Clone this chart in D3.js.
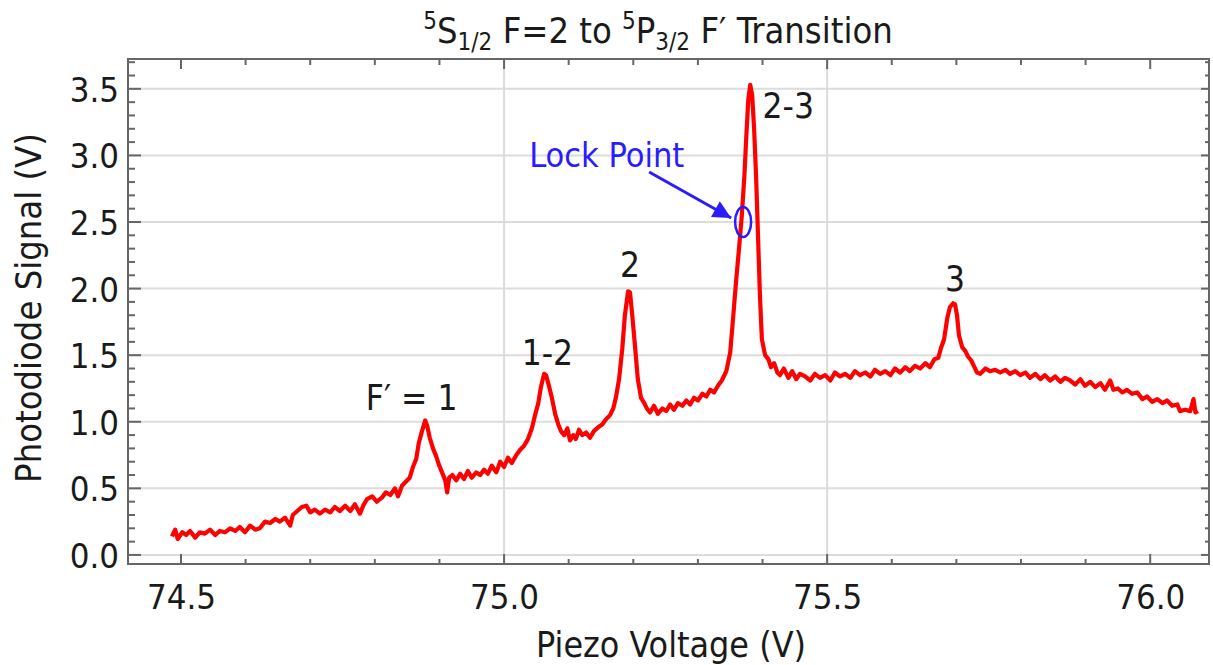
<!DOCTYPE html>
<html><head><meta charset="utf-8">
<script src="https://cdn.jsdelivr.net/npm/d3@7"></script>
<style>
body{margin:0;background:#fff;}
text{font-family:'DejaVu Sans Condensed','DejaVu Sans',sans-serif;font-stretch:condensed;}
</style></head>
<body><svg id="c" width="1213" height="665"></svg>
<script>
// ---- data ----
const voltage = [74.486,74.491,74.495,74.502,74.508,74.514,74.522,74.529,74.537,74.545,74.553,74.560,74.568,74.576,74.584,74.591,74.599,74.607,74.615,74.622,74.630,74.638,74.646,74.653,74.661,74.669,74.673,74.680,74.687,74.694,74.700,74.707,74.715,74.723,74.731,74.738,74.746,74.754,74.762,74.769,74.777,74.782,74.788,74.796,74.803,74.811,74.817,74.824,74.831,74.836,74.842,74.848,74.854,74.859,74.864,74.868,74.873,74.878,74.881,74.885,74.890,74.895,74.899,74.904,74.909,74.912,74.915,74.920,74.926,74.932,74.938,74.944,74.950,74.957,74.963,74.969,74.975,74.981,74.988,74.994,75.000,75.006,75.012,75.019,75.025,75.031,75.037,75.043,75.048,75.053,75.057,75.062,75.065,75.070,75.074,75.079,75.084,75.088,75.093,75.098,75.102,75.107,75.111,75.116,75.121,75.127,75.133,75.139,75.146,75.152,75.158,75.164,75.169,75.173,75.178,75.183,75.187,75.192,75.195,75.198,75.203,75.207,75.212,75.217,75.221,75.226,75.232,75.238,75.245,75.251,75.257,75.263,75.269,75.276,75.282,75.288,75.294,75.300,75.307,75.313,75.319,75.325,75.331,75.337,75.344,75.350,75.354,75.359,75.364,75.368,75.372,75.375,75.378,75.381,75.384,75.387,75.390,75.393,75.396,75.399,75.404,75.409,75.413,75.418,75.423,75.427,75.433,75.440,75.446,75.452,75.458,75.466,75.474,75.481,75.489,75.497,75.505,75.512,75.520,75.528,75.536,75.543,75.551,75.559,75.567,75.574,75.582,75.590,75.598,75.605,75.613,75.621,75.628,75.636,75.644,75.652,75.659,75.666,75.672,75.676,75.681,75.686,75.690,75.695,75.698,75.701,75.704,75.709,75.714,75.718,75.723,75.728,75.732,75.737,75.745,75.752,75.760,75.768,75.776,75.783,75.791,75.799,75.807,75.814,75.822,75.830,75.837,75.845,75.853,75.861,75.868,75.876,75.884,75.892,75.899,75.907,75.915,75.923,75.930,75.938,75.943,75.950,75.957,75.964,75.972,75.980,75.988,75.995,76.003,76.011,76.019,76.026,76.034,76.042,76.046,76.054,76.062,76.067,76.070,76.074];
const signal = [0.14,0.19,0.12,0.17,0.15,0.18,0.13,0.17,0.16,0.19,0.15,0.18,0.17,0.20,0.18,0.21,0.17,0.22,0.19,0.20,0.25,0.24,0.27,0.25,0.28,0.22,0.30,0.33,0.36,0.37,0.32,0.34,0.31,0.34,0.32,0.36,0.33,0.37,0.33,0.38,0.31,0.37,0.42,0.44,0.40,0.43,0.47,0.45,0.50,0.44,0.52,0.55,0.58,0.66,0.72,0.84,0.93,1.01,0.97,0.88,0.80,0.74,0.68,0.62,0.56,0.47,0.58,0.60,0.56,0.61,0.57,0.63,0.58,0.62,0.60,0.64,0.61,0.67,0.62,0.70,0.66,0.73,0.69,0.75,0.79,0.82,0.87,0.95,1.05,1.14,1.26,1.36,1.35,1.26,1.18,1.06,0.98,0.93,0.90,0.95,0.86,0.90,0.87,0.94,0.90,0.92,0.88,0.93,0.96,0.98,1.02,1.05,1.10,1.18,1.32,1.55,1.80,1.98,1.97,1.82,1.55,1.32,1.18,1.14,1.10,1.07,1.12,1.06,1.10,1.08,1.13,1.09,1.14,1.12,1.16,1.13,1.18,1.16,1.21,1.19,1.24,1.22,1.27,1.31,1.38,1.52,1.75,2.05,2.32,2.55,2.85,3.15,3.42,3.53,3.45,3.20,2.85,2.40,1.95,1.62,1.50,1.47,1.41,1.44,1.37,1.35,1.40,1.33,1.38,1.32,1.36,1.34,1.31,1.36,1.33,1.35,1.31,1.37,1.34,1.36,1.33,1.38,1.35,1.37,1.34,1.39,1.36,1.38,1.35,1.40,1.37,1.41,1.38,1.42,1.40,1.44,1.41,1.47,1.48,1.55,1.62,1.78,1.86,1.89,1.88,1.80,1.65,1.56,1.53,1.49,1.46,1.41,1.37,1.36,1.40,1.38,1.39,1.37,1.39,1.36,1.38,1.35,1.37,1.33,1.36,1.32,1.35,1.31,1.34,1.30,1.33,1.31,1.28,1.32,1.27,1.30,1.26,1.29,1.24,1.31,1.24,1.25,1.22,1.24,1.21,1.22,1.17,1.19,1.15,1.17,1.14,1.16,1.12,1.13,1.08,1.09,1.08,1.17,1.07,1.08];
const xTicks = [74.5, 75.0, 75.5, 76.0];
const xTickLabels = ["74.5","75.0","75.5","76.0"];
const yTicks = [0.0,0.5,1.0,1.5,2.0,2.5,3.0,3.5];
const yTickLabels = ["0.0","0.5","1.0","1.5","2.0","2.5","3.0","3.5"];
const xGrid = [75.0, 75.5];
const peakLabels = ["F\u2032 = 1","1-2","2","2-3","3"];
const peakLabelX = [74.857, 75.067, 75.195, 75.400, 75.698];
const peakLabelY = [1.09, 1.43, 2.09, 3.28, 1.98];
const peakAnchor = ["middle","middle","middle","start","middle"];
const lockPoint = {v: 75.370, s: 2.50};
const lockLabel = "Lock Point";

// ---- layout ----
const svg = d3.select("#c");
const L = 128, R = 1209, T = 59, B = 564;
const x = d3.scaleLinear().domain([74.418, 76.091]).range([L, R]);
const y = d3.scaleLinear().domain([-0.068, 3.724]).range([B, T]);
const frameCol = "#666", textCol = "#1a1a1a";

// grid
svg.append("g").selectAll("line").data(yTicks).join("line")
  .attr("x1", L).attr("x2", R).attr("y1", d => y(d)).attr("y2", d => y(d))
  .attr("stroke", "#dcdcdc").attr("stroke-width", 2);
svg.append("g").selectAll("line").data(xGrid).join("line")
  .attr("y1", T).attr("y2", B).attr("x1", d => x(d)).attr("x2", d => x(d))
  .attr("stroke", "#dcdcdc").attr("stroke-width", 2);

// minor ticks
const xMinor = d3.range(74.5, 76.09, 0.1).map(d => +d.toFixed(2)).filter(d => !xTicks.some(t => Math.abs(t - d) < 1e-6));
const yMinor = d3.range(0, 3.72, 0.1).map(d => +d.toFixed(2)).filter(d => !yTicks.some(t => Math.abs(t - d) < 1e-6));

function tickLines(g, vals, orient, len) {
  g.selectAll(null).data(vals).join("line")
    .attr("stroke", frameCol).attr("stroke-width", 2)
    .each(function (d) {
      const s = d3.select(this);
      if (orient === "bottom") s.attr("x1", x(d)).attr("x2", x(d)).attr("y1", B).attr("y2", B - len);
      if (orient === "top") s.attr("x1", x(d)).attr("x2", x(d)).attr("y1", T).attr("y2", T + len);
      if (orient === "left") s.attr("y1", y(d)).attr("y2", y(d)).attr("x1", L).attr("x2", L + len);
      if (orient === "right") s.attr("y1", y(d)).attr("y2", y(d)).attr("x1", R).attr("x2", R - len);
    });
}
const tg = svg.append("g");
tickLines(tg, xTicks, "bottom", 10); tickLines(tg, xMinor, "bottom", 5);
tickLines(tg, xTicks, "top", 10); tickLines(tg, xMinor, "top", 6);
tickLines(tg, yTicks, "left", 13); tickLines(tg, yMinor, "left", 7);
tickLines(tg, yTicks, "right", 8); tickLines(tg, yMinor, "right", 4);

// tick labels via d3 axes
const xAxis = d3.axisBottom(x).tickValues(xTicks).tickFormat((d, i) => xTickLabels[i]).tickSize(0).tickPadding(0);
const gx = svg.append("g").attr("transform", `translate(0,${B})`).call(xAxis);
gx.select(".domain").remove();
gx.selectAll("text").attr("font-size", 34.5).attr("fill", textCol).attr("dy", null).attr("y", 45)
  .style("font-family", "'DejaVu Sans Condensed','DejaVu Sans',sans-serif");
const yAxis = d3.axisLeft(y).tickValues(yTicks).tickFormat((d, i) => yTickLabels[i]).tickSize(0).tickPadding(0);
const gy = svg.append("g").attr("transform", `translate(${L},0)`).call(yAxis);
gy.select(".domain").remove();
gy.selectAll("text").attr("font-size", 34.5).attr("fill", textCol).attr("x", -9).attr("dy", "0.36em")
  .style("font-family", "'DejaVu Sans Condensed','DejaVu Sans',sans-serif");

// frame
svg.append("rect").attr("x", L).attr("y", T).attr("width", R - L).attr("height", B - T)
  .attr("fill", "none").attr("stroke", frameCol).attr("stroke-width", 2);

// data line
const pts = voltage.map((v, i) => [v, signal[i]]);
svg.append("clipPath").attr("id", "cp").append("rect").attr("x", L).attr("y", T).attr("width", R - L).attr("height", B - T);
svg.append("path").datum(pts).attr("clip-path", "url(#cp)")
  .attr("d", d3.line().x(d => x(d[0])).y(d => y(d[1])))
  .attr("fill", "none").attr("stroke", "#ff0000").attr("stroke-width", 4.2).attr("stroke-linejoin", "round");

// peak labels
svg.append("g").selectAll("text").data(peakLabels).join("text")
  .attr("x", (d, i) => x(peakLabelX[i])).attr("y", (d, i) => y(peakLabelY[i]))
  .attr("text-anchor", (d, i) => peakAnchor[i]).attr("font-size", 35).attr("fill", textCol)
  .text(d => d);

// lock point annotation
const blue = "#2b1cff";
svg.append("ellipse").attr("cx", x(lockPoint.v)).attr("cy", y(lockPoint.s)).attr("rx", 8).attr("ry", 15)
  .attr("fill", "none").attr("stroke", blue).attr("stroke-width", 2.5);
svg.append("defs").append("marker").attr("id", "ah").attr("viewBox", "0 0 10 10").attr("refX", 10).attr("refY", 5)
  .attr("markerWidth", 7).attr("markerHeight", 6).attr("markerUnits", "strokeWidth").attr("orient", "auto")
  .append("path").attr("d", "M0,0 L10,5 L0,10 Z").attr("fill", blue);
svg.append("line").attr("x1", x(lockPoint.v) - 94).attr("y1", y(lockPoint.s) - 50)
  .attr("x2", x(lockPoint.v) - 12).attr("y2", y(lockPoint.s) - 4)
  .attr("stroke", blue).attr("stroke-width", 3).attr("marker-end", "url(#ah)");
svg.append("text").attr("x", x(lockPoint.v) - 214).attr("y", y(lockPoint.s) - 55)
  .attr("font-size", 34).attr("fill", blue).text(lockLabel);

// title
const title = svg.append("text").attr("x", 658).attr("y", 43).attr("text-anchor", "middle")
  .attr("font-size", 36).attr("fill", textCol);
const parts = [["5","sup"],["S",""],["1/2","sub"],[" F=2 to ",""],["5","sup"],["P",""],["3/2","sub"],[" F\u2032 Transition",""]];
parts.forEach(([t, k]) => {
  const ts = title.append("tspan").text(t);
  if (k === "sup") ts.attr("font-size", 24).attr("baseline-shift", "60%");
  if (k === "sub") ts.attr("font-size", 24).attr("baseline-shift", "-30%");
});

// axis titles
svg.append("text").attr("x", 671).attr("y", 657).attr("text-anchor", "middle")
  .attr("font-size", 35.5).attr("fill", textCol).text("Piezo Voltage (V)");
svg.append("text").attr("transform", "translate(41,308) rotate(-90)").attr("text-anchor", "middle")
  .attr("font-size", 36).attr("fill", textCol).text("Photodiode Signal (V)");
</script></body></html>
